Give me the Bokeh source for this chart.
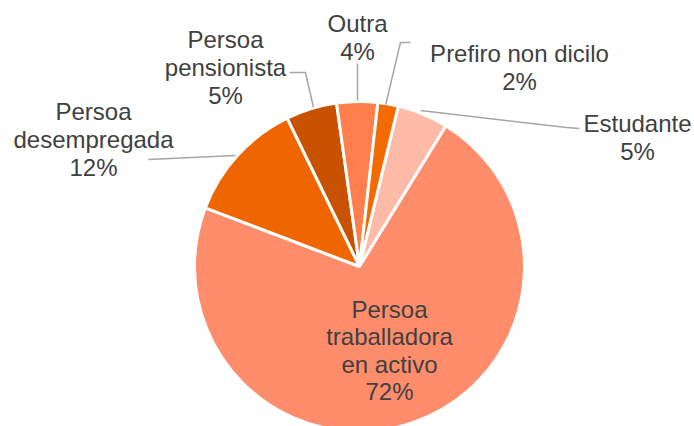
import numpy as np
from bokeh.plotting import figure
from bokeh.models import Range1d, ColumnDataSource
from bokeh.core.properties import value
from bokeh.embed import file_html
from bokeh.resources import INLINE

# ---- data (clockwise order, starting with Estudante) ----
categories = ["Estudante", "Persoa traballadora en activo", "Persoa desempregada",
              "Persoa pensionista", "Outra", "Prefiro non dicilo"]
label_names = ["Estudante", "Persoa\ntraballadora\nen activo", "Persoa\ndesempregada",
               "Persoa\npensionista", "Outra", "Prefiro non dicilo"]
percents = [5, 72, 12, 5, 4, 2]

# ---- style / layout ----
colors = ["#FFBBA8", "#FF8D6B", "#EF6600", "#C85200", "#FF7E4C", "#F26A00"]
W, H = 694, 426
TOP = 426  # screen y -> data y conversion: y_data = TOP - y_screen
cx, cy, R = 359, TOP - 266, 165
start_cw_deg = 13.6  # clockwise from 12 o'clock where first slice begins

# label anchors (screen coords) and leader lines (screen coords)
label_pos = {
    "Estudante": (637, 137),
    "Persoa traballadora en activo": (389, 350),
    "Persoa desempregada": (93, 139),
    "Persoa pensionista": (225, 67),
    "Outra": (357, 37),
    "Prefiro non dicilo": (519, 67),
}
leaders = {
    "Estudante": ([420, 566, 579], [110, 127, 128]),
    "Persoa desempregada": ([148, 235], [159, 155]),
    "Persoa pensionista": ([289, 305, 313], [72, 72, 107]),
    "Outra": ([357, 357], [63, 100]),
    "Prefiro non dicilo": ([410, 400, 385], [42, 42, 105]),
}

fracs = np.array(percents, dtype=float) / sum(percents)
cum = start_cw_deg + 360 * np.concatenate([[0], np.cumsum(fracs)])
start_angles = np.deg2rad(90 - cum[:-1])
end_angles = np.deg2rad(90 - cum[1:])

src = ColumnDataSource(dict(cat=categories, start=start_angles, end=end_angles, color=colors))

p = figure(width=W, height=H, output_backend="svg", toolbar_location=None,
           x_range=Range1d(0, W), y_range=Range1d(TOP - H, TOP),
           min_border=0, outline_line_color=None)
p.axis.visible = False
p.grid.visible = False
p.background_fill_color = "white"

p.wedge(x=cx, y=cy, radius=R, start_angle="start", end_angle="end", direction="clock",
        fill_color="color", line_color="white", line_width=3, source=src)

for cat, (xs, ys) in leaders.items():
    p.line(xs, [TOP - y for y in ys], line_color="#A6A6A6", line_width=1.5)

texts = [f"{n}\n{v}%" for n, v in zip(label_names, percents)]
lx = [label_pos[c][0] for c in categories]
ly = [TOP - label_pos[c][1] for c in categories]
p.text(x=lx, y=ly, text=texts, text_align="center", text_baseline="middle",
       text_font=value("Liberation Sans"), text_font_size="24px", text_color="#404040",
       text_line_height=1.02)

open("out.html", "w").write(file_html(p, INLINE))
